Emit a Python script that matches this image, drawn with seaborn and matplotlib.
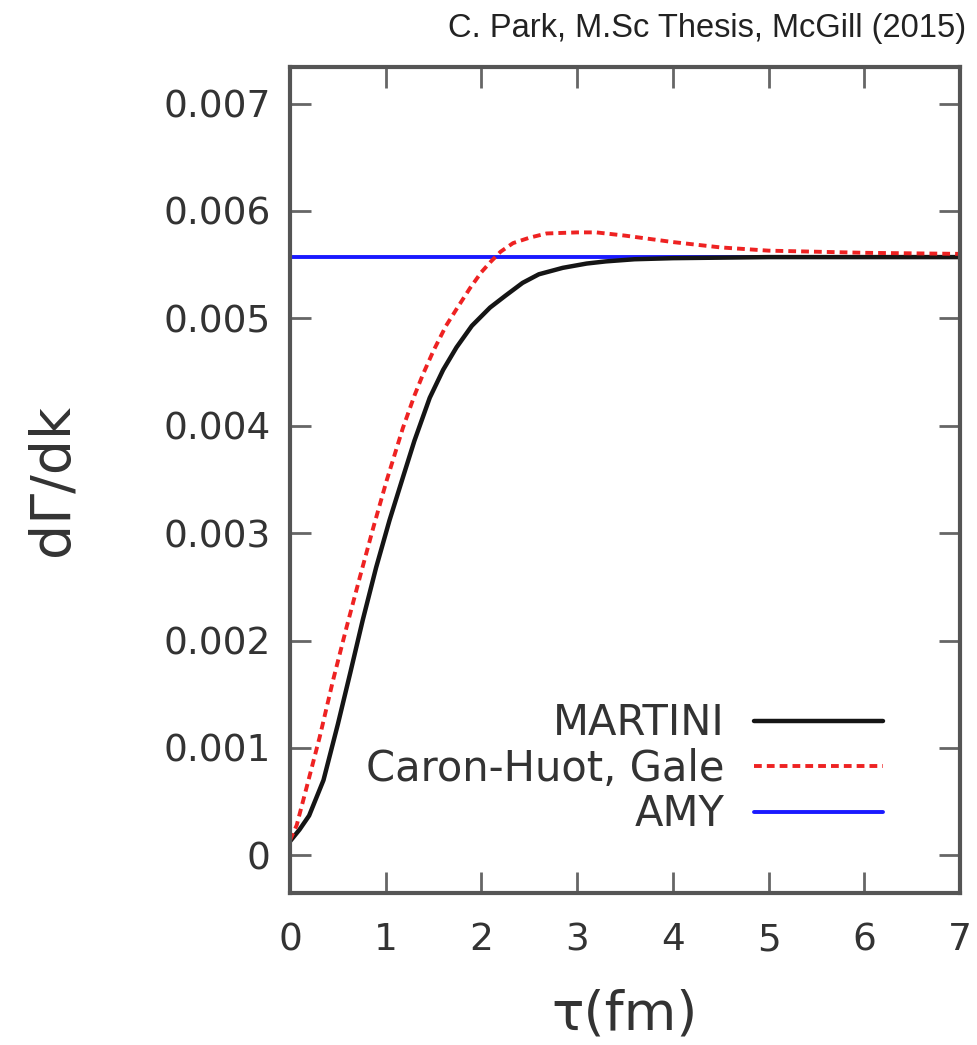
import numpy as np
import pandas as pd
import matplotlib
matplotlib.use("Agg")
import matplotlib.pyplot as plt
import seaborn as sns

# ---- data ----
martini_tau = [0.0, 0.1, 0.2, 0.35, 0.5, 0.63, 0.76, 0.9, 1.04, 1.18, 1.3, 1.46, 1.6, 1.74, 1.9, 2.09, 2.25, 2.43, 2.6, 2.85, 3.1, 3.3, 3.6, 4.0, 5.0, 6.0, 7.0]
martini_rate = [0.00013, 0.00024, 0.00037, 0.00070, 0.00122, 0.00170, 0.00219, 0.00268, 0.00312, 0.00352, 0.00386, 0.00426, 0.00452, 0.00473, 0.00493, 0.00510, 0.00521, 0.00533, 0.00541, 0.00547, 0.00551, 0.00553, 0.00555, 0.00556, 0.00557, 0.00557, 0.00557]

ch_tau = [0.0, 0.07, 0.17, 0.31, 0.45, 0.59, 0.73, 0.87, 1.01, 1.18, 1.3, 1.39, 1.5, 1.63, 1.75, 1.88, 2.0, 2.09, 2.2, 2.33, 2.5, 2.68, 3.0, 3.2, 3.5, 4.0, 4.5, 5.0, 6.0, 7.0]
ch_rate = [0.00014, 0.00028, 0.00062, 0.00110, 0.00163, 0.00212, 0.00259, 0.00305, 0.00349, 0.00398, 0.00428, 0.00448, 0.00470, 0.00493, 0.00510, 0.00528, 0.00543, 0.00552, 0.00562, 0.00570, 0.00575, 0.00579, 0.00580, 0.00580, 0.00577, 0.00571, 0.00566, 0.00563, 0.00561, 0.00560]

amy_tau = [0.0, 7.0]
amy_rate = [0.00557, 0.00557]

series_names = ["MARTINI", "Caron-Huot, Gale", "AMY"]
x_ticks = [0, 1, 2, 3, 4, 5, 6, 7]
y_ticks = [0, 0.001, 0.002, 0.003, 0.004, 0.005, 0.006, 0.007]
y_tick_labels = ["0", "0.001", "0.002", "0.003", "0.004", "0.005", "0.006", "0.007"]

df = pd.concat([
    pd.DataFrame({"tau": martini_tau, "rate": martini_rate, "series": series_names[0]}),
    pd.DataFrame({"tau": ch_tau, "rate": ch_rate, "series": series_names[1]}),
    pd.DataFrame({"tau": amy_tau, "rate": amy_rate, "series": series_names[2]}),
])

sns.set_theme(style="white")
plt.rcParams["font.family"] = ["DejaVu Sans"]

fig = plt.figure(figsize=(9.78, 10.45), dpi=100)
ax = fig.add_axes([0.2965, 0.1455, 0.6851, 0.7904])

styles = {
    "MARTINI": dict(color="#151515", lw=3.2, ls="-"),
    "Caron-Huot, Gale": dict(color="#ee2222", lw=2.8, ls=(0, (2.0, 1.3))),
    "AMY": dict(color="#1a1aff", lw=2.8, ls="-"),
}
order = ["AMY", "MARTINI", "Caron-Huot, Gale"]
for name in order:
    sub = df[df["series"] == name]
    st = styles[name]
    sns.lineplot(data=sub, x="tau", y="rate", ax=ax, color=st["color"],
                 linewidth=st["lw"], linestyle=st["ls"], label=name,
                 estimator=None, sort=False)

ax.set_xlim(0, 7)
ax.set_ylim(-0.00035, 0.00734)
ax.set_xticks(x_ticks)
ax.set_xticklabels([str(v) for v in x_ticks])
ax.set_yticks(y_ticks)
ax.set_yticklabels(y_tick_labels)

ax.tick_params(axis="both", which="both", direction="in", length=15, width=2,
               color="#666666", top=True, right=True, bottom=True, left=True,
               labelsize=27, labelcolor="#333333")
ax.tick_params(axis="x", pad=21)
ax.tick_params(axis="y", pad=14)
for sp in ax.spines.values():
    sp.set_color("#555555")
    sp.set_linewidth(3)
    sp.set_visible(True)

ax.set_xlabel("τ(fm)", fontsize=39, color="#333333", labelpad=22)
ax.set_ylabel("dΓ/dk", fontsize=40, color="#333333", labelpad=60)

handles, labels = ax.get_legend_handles_labels()
hmap = dict(zip(labels, handles))
leg = ax.legend([hmap[n] for n in series_names], series_names, loc="lower right",
                bbox_to_anchor=(0.885, 0.07), frameon=False, markerfirst=False,
                fontsize=30, handlelength=3.1, handletextpad=0.7,
                labelspacing=0.08, borderpad=0, borderaxespad=0)
for t in leg.get_texts():
    t.set_color("#333333")

fig.text(0.988, 0.973, "C. Park, M.Sc Thesis, McGill (2015)", ha="right", va="center",
         fontsize=23.5, family=["Liberation Sans", "DejaVu Sans"], color="#222222")

fig.savefig("out.png", dpi=100)
